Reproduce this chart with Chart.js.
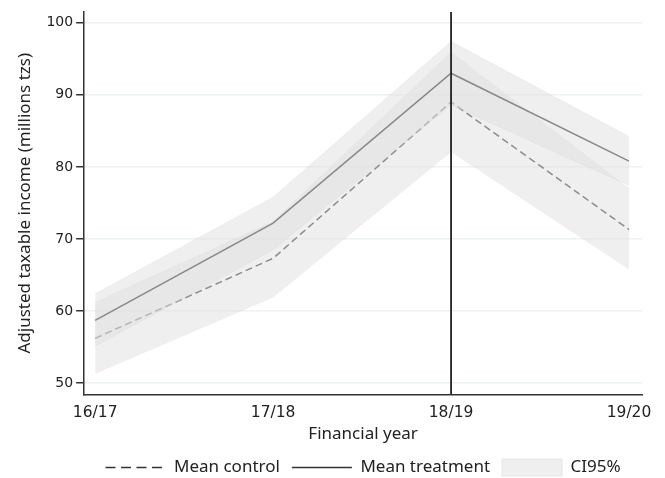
<!DOCTYPE html>
<html>
<head>
<meta charset="utf-8">
<script src="https://cdn.jsdelivr.net/npm/chart.js@4/dist/chart.umd.min.js"></script>
<style>
html,body{margin:0;padding:0;background:#fff;}
#wrap{width:665px;height:478px;}
</style>
</head>
<body>
<div id="wrap"><canvas id="c" width="665" height="478"></canvas></div>
<script>
const categories = ["16/17", "17/18", "18/19", "19/20"];
const meanTreatment = [58.7, 72.2, 93.0, 80.8];
const treatmentUpper = [62.4, 75.8, 97.4, 84.2];
const treatmentLower = [55.1, 68.5, 88.6, 77.4];
const meanControl = [56.2, 67.3, 89.0, 71.3];
const controlUpper = [61.2, 72.4, 95.9, 77.0];
const controlLower = [51.3, 61.9, 82.1, 65.8];
const yTicks = [50, 60, 70, 80, 90, 100];
const treatmentYear = 2; // index of 18/19

const pts = arr => arr.map((v, i) => ({x: i, y: v}));
const FONT = "'Noto Sans', 'Open Sans', sans-serif";
const TICKFONT = "'DejaVu Sans', sans-serif";
const bandFill = "rgba(223,223,223,0.5)";
const bandEdge = "rgba(0,0,0,0.035)";

const datasets = [
  {label: "cU", data: pts(controlUpper), fill: "+1", backgroundColor: bandFill, borderColor: bandEdge, borderWidth: 1, pointRadius: 0, order: 10},
  {label: "cL", data: pts(controlLower), fill: false, borderColor: bandEdge, borderWidth: 1, pointRadius: 0, order: 10},
  {label: "Mean control", data: pts(meanControl), fill: false, borderColor: "#8c8c8c", borderWidth: 1.5, borderDash: [7, 4], pointRadius: 0, order: 8},
  {label: "tU", data: pts(treatmentUpper), fill: "+1", backgroundColor: bandFill, borderColor: bandEdge, borderWidth: 1, pointRadius: 0, order: 6},
  {label: "tL", data: pts(treatmentLower), fill: false, borderColor: bandEdge, borderWidth: 1, pointRadius: 0, order: 6},
  {label: "Mean treatment", data: pts(meanTreatment), fill: false, borderColor: "#888888", borderWidth: 1.5, pointRadius: 0, order: 4},
  {label: "vline", data: [{x: treatmentYear, y: 48.4}, {x: treatmentYear, y: 101.5}], fill: false, borderColor: "#222", borderWidth: 1.8, pointRadius: 0, order: 0}
];

new Chart(document.getElementById("c"), {
  type: "line",
  data: {datasets},
  options: {
    responsive: false,
    animation: false,
    layout: {padding: {top: 12, right: 23, left: 12, bottom: -8}},
    plugins: {
      tooltip: {enabled: false},
      legend: {
        position: "bottom",
        fullSize: false,
        labels: {
          usePointStyle: true,
          pointStyleWidth: 60,
          boxHeight: 17,
          padding: 12,
          color: "#222",
          font: {family: FONT, size: 17},
          generateLabels: () => [
            {text: "Mean control", pointStyle: "line", strokeStyle: "#333", lineWidth: 1.5, lineDash: [10, 5.5], fillStyle: "#333", fontColor: "#222"},
            {text: "Mean treatment", pointStyle: "line", strokeStyle: "#333", lineWidth: 1.5, lineDash: [], fillStyle: "#333", fontColor: "#222"},
            {text: "CI95%", pointStyle: "rect", strokeStyle: "#e6e6e6", lineWidth: 1, fillStyle: "#efefef", fontColor: "#222"}
          ]
        }
      }
    },
    scales: {
      x: {
        type: "linear",
        min: -0.062,
        max: 3.073,
        afterBuildTicks: s => { s.ticks = categories.map((c, i) => ({value: i})); },
        ticks: {callback: v => categories[v], color: "#222", font: {family: TICKFONT, size: 15.5}, padding: 2, maxRotation: 0, autoSkip: false},
        grid: {display: false, drawOnChartArea: false, drawTicks: true, tickLength: 7, tickColor: "#333"},
        border: {display: true, color: "#333", width: 1.5},
        title: {display: true, text: "Financial year", color: "#222", font: {family: FONT, size: 17}, padding: {top: -0.5, bottom: 3}}
      },
      y: {
        min: 48.4,
        max: 101.5,
        afterBuildTicks: s => { s.ticks = yTicks.map(v => ({value: v})); },
        ticks: {color: "#222", font: {family: TICKFONT, size: 14}, padding: 3},
        grid: {color: "#ecf2f2", lineWidth: 1.5, drawTicks: true, tickLength: 8, tickColor: "#333"},
        border: {display: true, color: "#333", width: 1.5},
        title: {display: true, text: "Adjusted taxable income (millions tzs)", color: "#222", font: {family: FONT, size: 17}, padding: {top: 3, bottom: 8}}
      }
    }
  }
});
</script>
</body>
</html>
